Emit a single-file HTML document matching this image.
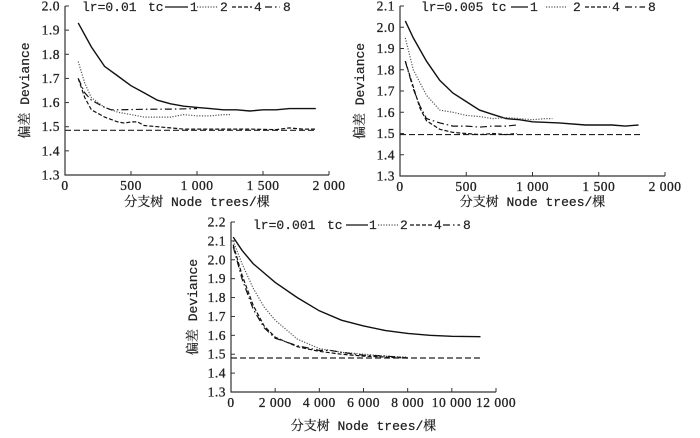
<!DOCTYPE html>
<html><head><meta charset="utf-8"><style>
body{margin:0;background:#fff;width:700px;height:433px;overflow:hidden}
svg text{font-family:"Liberation Mono","Noto Serif CJK SC",monospace;fill:#222}
.t{font-size:13px;stroke:#222;stroke-width:0.25px}
.tk{font-family:"Liberation Serif",serif;font-size:13.5px;stroke:#222;stroke-width:0.3px;letter-spacing:0.5px}
.lg{font-size:13px;stroke:#222;stroke-width:0.2px}
</style></head><body>
<svg id="s" width="700" height="433"></svg>
<script>
const c1x1=[100,200,300,400,500,600,700,800,900,1000,1100,1200,1300,1400,1500,1600,1700,1800,1900];
const c1y1=[1.93,1.83,1.75,1.71,1.67,1.64,1.61,1.595,1.585,1.58,1.575,1.57,1.57,1.565,1.57,1.57,1.575,1.575,1.575];
const c1x2=[100,150,200,300,400,500,600,700,800,900,1000,1100,1200,1250];
const c1y2=[1.77,1.68,1.62,1.58,1.56,1.55,1.54,1.54,1.54,1.55,1.545,1.545,1.55,1.55];
const c1x4=[100,150,200,300,400,450,500,550,600,700,800,900,1000,1200,1400,1600,1700,1800,1900];
const c1y4=[1.70,1.62,1.57,1.54,1.52,1.515,1.52,1.52,1.505,1.5,1.495,1.49,1.49,1.49,1.49,1.488,1.495,1.49,1.49];
const c1x8=[100,150,200,300,350,400,600,800,1000];
const c1y8=[1.70,1.64,1.61,1.58,1.57,1.57,1.572,1.573,1.575];
const c2x1=[40,100,200,300,400,500,600,700,800,900,1000,1200,1400,1600,1700,1800];
const c2y1=[2.03,1.95,1.84,1.75,1.69,1.65,1.61,1.59,1.57,1.565,1.555,1.55,1.54,1.54,1.535,1.54];
const c2x2=[40,100,200,300,400,500,600,700,800,900,1000,1100,1150];
const c2y2=[1.95,1.80,1.68,1.61,1.60,1.585,1.58,1.57,1.575,1.57,1.565,1.57,1.57];
const c2x4=[40,100,150,200,300,400,500,600,700,800,880];
const c2y4=[1.84,1.72,1.62,1.56,1.52,1.505,1.50,1.495,1.5,1.495,1.50];
const c2x8=[40,100,150,200,300,400,500,600,700,800,880];
const c2y8=[1.84,1.71,1.63,1.57,1.55,1.535,1.535,1.53,1.535,1.535,1.54];
const c3x1=[100,500,1000,2000,3000,4000,5000,6000,7000,8000,9000,10000,11300];
const c3y1=[2.12,2.05,1.98,1.88,1.80,1.73,1.68,1.65,1.625,1.61,1.60,1.595,1.593];
const c3x2=[100,500,1000,1500,2000,3000,4000,5000,6000,7000,8000];
const c3y2=[2.10,1.98,1.85,1.75,1.68,1.58,1.53,1.51,1.50,1.49,1.485];
const c3x4=[100,500,1000,1500,2000,3000,4000,5000,6000,7000,8000];
const c3y4=[2.08,1.92,1.76,1.65,1.59,1.54,1.515,1.50,1.49,1.485,1.48];
const c3x8=[100,500,1000,1500,2000,3000,4000,4500,5000,6000,7000,8000];
const c3y8=[2.07,1.90,1.74,1.64,1.585,1.545,1.52,1.52,1.51,1.495,1.49,1.48];
const yt1=["1.3","1.4","1.5","1.6","1.7","1.8","1.9","2.0"];
const yt2=["1.3","1.4","1.5","1.6","1.7","1.8","1.9","2.0","2.1"];
const yt3=["1.3","1.4","1.5","1.6","1.7","1.8","1.9","2.0","2.1","2.2"];
const xt12=["0","500","1 000","1 500","2 000"];const xv12=[0,500,1000,1500,2000];
const xt3=["0","2 000","4 000","6 000","8 000","10 000","12 000"];const xv3=[0,2000,4000,6000,8000,10000,12000];
const base=[1.485,1.495,1.48];const baseEnd=[1900,1820,11300];

const S=document.getElementById('s');const NS='http://www.w3.org/2000/svg';
function mk(t,a,p){const e=document.createElementNS(NS,t);for(const k in a)e.setAttribute(k,a[k]);(p||S).appendChild(e);return e;}
const dashes={1:'',2:'1.2,1.5',4:'4,2',8:'7,3,1.5,3'};
function chart(id,P,yt,xt,xv,series,bl,be,lr,L){
  const g=mk('g',{});
  
  
  const y0=1.3,y1=+yt[yt.length-1];
  const X=v=>P.x0+(v-P.xmin)/(P.xmax-P.xmin)*(P.x1-P.x0);
  const Y=v=>P.yb-(v-y0)/(y1-y0)*(P.yb-P.yt);
  const ax=mk('path',{d:`M${P.x0},${P.yt} V${P.yb} H${P.x1}`,stroke:'#333',fill:'none','stroke-width':1.2},g);
  
  yt.forEach(s=>{const y=Y(+s);mk('line',{x1:P.x0,x2:P.x0+4,y1:y,y2:y,stroke:'#333'},g);
    const t=mk('text',{x:P.x0-5,y:y+4.5,'text-anchor':'end',class:'tk'},g);t.textContent=s;
    });
  xt.forEach((s,i)=>{const x=X(xv[i]);mk('line',{x1:x,x2:x,y1:P.yb,y2:P.yb-4,stroke:'#333'},g);
    const t=mk('text',{x:x,y:P.yb+15,'text-anchor':'middle',class:'tk'},g);t.textContent=s;
    });
  const bln=mk('line',{x1:X(0),x2:X(be),y1:Y(bl),y2:Y(bl),stroke:'#222','stroke-width':1.2,'stroke-dasharray':'6,3'},g);
  
  series.forEach(([k,xs,ys])=>{const d=xs.map((x,i)=>(i?'L':'M')+X(x).toFixed(1)+','+Y(ys[i]).toFixed(1)).join(' ');
    const p=mk('path',{d,fill:'none',stroke:k==2?'#555':'#111','stroke-width':k==1?1.4:1.2,'stroke-dasharray':dashes[k]},g);
    });
  const yt_=mk('text',{x:P.tx,y:(P.yt+P.yb)/2,'text-anchor':'middle',class:'t',transform:`rotate(-90 ${P.tx} ${(P.yt+P.yb)/2})`},g);
  yt_.textContent='偏差 Deviance';
  const xt_=mk('text',{x:(P.x0+P.x1)/2,y:P.xty,'text-anchor':'middle',class:'t'},g);
  xt_.textContent='分支树 Node trees/棵';
  const ly=P.ly;
  const lg=mk('g',{},g);
  let t=mk('text',{x:L[0],y:ly+4,class:'lg'},lg);t.textContent=lr;
  t=mk('text',{x:L[1],y:ly+4,class:'lg'},lg);t.textContent='tc';
  [1,2,4,8].forEach((k,i)=>{const [a,b,c]=L[2+i];
    mk('line',{x1:a,x2:b,y1:ly,y2:ly,stroke:k==2?'#555':'#111','stroke-width':1.3,'stroke-dasharray':dashes[k]},lg);
    const tt=mk('text',{x:c,y:ly+4,class:'lg'},lg);tt.textContent=String(k);});
}
chart('chart-lr-0.01',{x0:65,x1:329,xmin:0,xmax:2000,yt:6,yb:175,tx:29,xty:206,ly:7},yt1,xt12,xv12,
 [[1,c1x1,c1y1],[2,c1x2,c1y2],[4,c1x4,c1y4],[8,c1x8,c1y8]],base[0],baseEnd[0],'lr=0.01',
 [82,148,[165,188,190],[197,218,220],[232,252,254],[265,280,283]]);
chart('chart-lr-0.005',{x0:400,x1:665,xmin:0,xmax:2000,yt:6,yb:176,tx:364,xty:206,ly:7},yt2,xt12,xv12,
 [[1,c2x1,c2y1],[2,c2x2,c2y2],[4,c2x4,c2y4],[8,c2x8,c2y8]],base[1],baseEnd[1],'lr=0.005',
 [421,491,[511,528,530],[546,566,573],[585,610,612],[625,645,648]]);
chart('chart-lr-0.001',{x0:231,x1:496,xmin:0,xmax:12000,yt:222,yb:392,tx:197,xty:430,ly:225},yt3,xt3,xv3,
 [[1,c3x1,c3y1],[2,c3x2,c3y2],[4,c3x4,c3y4],[8,c3x8,c3y8]],base[2],baseEnd[2],'lr=0.001',
 [253,327,[346,368,369],[378,398,400],[410,432,434],[443,460,463]]);
</script>
</body></html>
